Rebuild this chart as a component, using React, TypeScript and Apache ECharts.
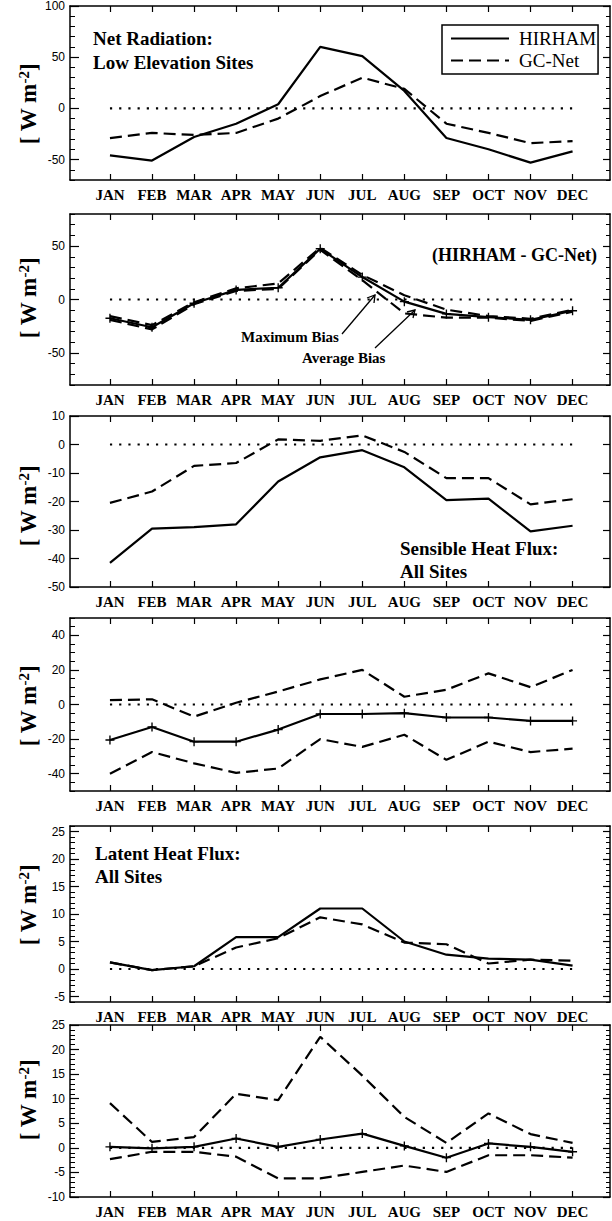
import React, { useEffect, useRef } from 'react';
import * as echarts from 'echarts';

// ---------- data ----------
const MONTHS = ['JAN', 'FEB', 'MAR', 'APR', 'MAY', 'JUN', 'JUL', 'AUG', 'SEP', 'OCT', 'NOV', 'DEC'];
const MONTH_POS = [1, 2, 3, 4, 5, 6, 7, 8, 9, 10, 11, 12];
const ZERO = [0, 0, 0, 0, 0, 0, 0, 0, 0, 0, 0, 0];

// Panel 1: Net radiation, low elevation sites
const P1_HIRHAM = [-46, -51, -28, -15, 4, 60, 51, 17, -29, -40, -53, -42];
const P1_GCNET = [-29, -24, -26, -24, -10, 12, 30, 19, -15, -24, -34, -32];
// Panel 2: net radiation bias (HIRHAM - GC-Net)
const P2_AVG = [-17.5, -26, -3.5, 9, 11, 47.5, 21, -2, -13.5, -16.5, -19, -10.5];
const P2_MAX_HI = [-15.5, -24, -2.5, 10.5, 15, 48.5, 23, 4, -9.5, -15.5, -18, -9.5];
const P2_MAX_LO = [-19, -28, -4.5, 8, 10, 46.5, 18, -13, -17, -17, -20, -11.5];
// Panel 3: sensible heat flux, all sites
const P3_HIRHAM = [-41.5, -29.5, -29, -28, -13, -4.5, -2, -8, -19.5, -19, -30.5, -28.5];
const P3_GCNET = [-20.5, -16.5, -7.5, -6.5, 1.8, 1.3, 3.2, -2.6, -11.8, -11.8, -21, -19.2];
// Panel 4: sensible heat flux bias
const P4_AVG = [-20.5, -13, -21.5, -21.5, -14.5, -5.5, -5.5, -5, -7.5, -7.5, -9.5, -9.5];
const P4_MAX_HI = [2.5, 3, -7, 1, 7.5, 14.5, 20, 4.5, 8.5, 18, 10, 20];
const P4_MAX_LO = [-40, -27.5, -34, -39.5, -37, -20, -24.5, -17.5, -32, -21.5, -27.5, -25.5];
// Panel 5: latent heat flux, all sites
const P5_HIRHAM = [1.2, -0.2, 0.5, 5.8, 5.8, 11, 11, 5, 2.6, 1.9, 1.7, 0.6];
const P5_GCNET = [1.2, -0.2, 0.5, 3.9, 5.6, 9.4, 8.1, 4.8, 4.5, 1.0, 1.7, 1.5];
// Panel 6: latent heat flux bias
const P6_AVG = [0.2, -0.1, 0.2, 1.9, 0.2, 1.7, 2.9, 0.4, -2.0, 0.9, 0.2, -0.8];
const P6_MAX_HI = [9.1, 1.2, 2.2, 11, 9.7, 22.6, 14.7, 6.3, 1.0, 7.0, 2.8, 1.0];
const P6_MAX_LO = [-2.3, -0.8, -0.8, -1.8, -6.2, -6.2, -4.9, -3.6, -4.9, -1.5, -1.5, -2.0];

// ---------- layout ----------
const SERIF = '"Liberation Serif", "Times New Roman", serif';
const SANS = '"Liberation Sans", Arial, sans-serif';
const X_MIN = 0.05;
const X_MAX = 12.89;
const GRID_LEFT = 70;
const GRID_RIGHT = 2;

function ticks(min: number, max: number, step: number, exclude: number[]) {
  const out: number[] = [];
  for (let v = min; v <= max + 1e-9; v += step) {
    const r = Math.round(v * 1000) / 1000;
    if (!exclude.some((e) => Math.abs(e - r) < 1e-9)) out.push(r);
  }
  return out;
}

type S = { name: string; data: number[]; kind: 'solid' | 'dashed'; plus?: boolean };
type Panel = {
  top: number; height: number; min: number; max: number;
  major: number[]; minorStep: number; labelY: number; series: S[];
};

const PANELS: Panel[] = [
  {
    top: 6, height: 174, min: -70, max: 100, major: [-50, 0, 50, 100], minorStep: 10, labelY: 104,
    series: [
      { name: 'HIRHAM', data: P1_HIRHAM, kind: 'solid' },
      { name: 'GC-Net', data: P1_GCNET, kind: 'dashed' },
    ],
  },
  {
    top: 214, height: 171, min: -80, max: 80, major: [-50, 0, 50], minorStep: 10, labelY: 298,
    series: [
      { name: 'Maximum Bias (high)', data: P2_MAX_HI, kind: 'dashed' },
      { name: 'Maximum Bias (low)', data: P2_MAX_LO, kind: 'dashed' },
      { name: 'Average Bias', data: P2_AVG, kind: 'solid', plus: true },
    ],
  },
  {
    top: 416, height: 171, min: -50, max: 10, major: [-50, -40, -30, -20, -10, 0, 10], minorStep: 0, labelY: 506,
    series: [
      { name: 'HIRHAM sensible', data: P3_HIRHAM, kind: 'solid' },
      { name: 'GC-Net sensible', data: P3_GCNET, kind: 'dashed' },
    ],
  },
  {
    top: 618, height: 173, min: -50, max: 50, major: [-40, -20, 0, 20, 40], minorStep: 5, labelY: 706,
    series: [
      { name: 'Sensible max bias (high)', data: P4_MAX_HI, kind: 'dashed' },
      { name: 'Sensible max bias (low)', data: P4_MAX_LO, kind: 'dashed' },
      { name: 'Sensible average bias', data: P4_AVG, kind: 'solid', plus: true },
    ],
  },
  {
    top: 826, height: 176, min: -6, max: 26, major: [-5, 0, 5, 10, 15, 20, 25], minorStep: 1, labelY: 905,
    series: [
      { name: 'HIRHAM latent', data: P5_HIRHAM, kind: 'solid' },
      { name: 'GC-Net latent', data: P5_GCNET, kind: 'dashed' },
    ],
  },
  {
    top: 1025, height: 172, min: -10, max: 25, major: [-10, -5, 0, 5, 10, 15, 20, 25], minorStep: 1, labelY: 1100,
    series: [
      { name: 'Latent max bias (high)', data: P6_MAX_HI, kind: 'dashed' },
      { name: 'Latent max bias (low)', data: P6_MAX_LO, kind: 'dashed' },
      { name: 'Latent average bias', data: P6_AVG, kind: 'solid', plus: true },
    ],
  },
];

const PLUS = 'path://M-0.6,-4H0.6V-0.6H4V0.6H0.6V4H-0.6V0.6H-4V-0.6H-0.6Z';
const AXIS_LINE = { show: true, onZero: false, lineStyle: { color: '#000', width: 1.5 } };
const NO_LINE = { show: false, onZero: false };

function buildOption() {
  const grid: any[] = [];
  const xAxis: any[] = [];
  const yAxis: any[] = [];
  const series: any[] = [];
  const graphic: any[] = [];

  PANELS.forEach((p, i) => {
    grid.push({ left: GRID_LEFT, right: GRID_RIGHT, top: p.top, height: p.height });
    const minor = p.minorStep ? ticks(p.min, p.max, p.minorStep, p.major) : [];
    // bottom x axis with month labels
    xAxis.push({
      type: 'value', gridIndex: i, position: 'bottom', min: X_MIN, max: X_MAX,
      axisLine: AXIS_LINE,
      axisTick: { show: true, inside: true, length: 6, customValues: MONTH_POS, lineStyle: { color: '#000', width: 1.2 } },
      axisLabel: {
        show: true, customValues: MONTH_POS, margin: 7,
        formatter: (v: number) => MONTHS[Math.round(v) - 1] || '',
        fontFamily: SERIF, fontWeight: 'bold', fontSize: 15, color: '#000',
      },
      splitLine: { show: false },
    });
    // top x axis (frame + ticks)
    xAxis.push({
      type: 'value', gridIndex: i, position: 'top', min: X_MIN, max: X_MAX,
      axisLine: AXIS_LINE,
      axisTick: { show: true, inside: true, length: 6, customValues: MONTH_POS, lineStyle: { color: '#000', width: 1.2 } },
      axisLabel: { show: false },
      splitLine: { show: false },
    });
    const yBase = { type: 'value', gridIndex: i, min: p.min, max: p.max, splitLine: { show: false } };
    yAxis.push({
      ...yBase, position: 'left',
      axisLine: AXIS_LINE,
      axisTick: { show: true, inside: true, length: 9, customValues: p.major, lineStyle: { color: '#000', width: 1.2 } },
      axisLabel: { show: true, customValues: p.major, margin: 5, fontFamily: SANS, fontSize: 12, color: '#000' },
    });
    yAxis.push({
      ...yBase, position: 'left',
      axisLine: NO_LINE,
      axisTick: { show: minor.length > 0, inside: true, length: 5, customValues: minor.length ? minor : [p.min], lineStyle: { color: '#000', width: 1 } },
      axisLabel: { show: false },
    });
    yAxis.push({
      ...yBase, position: 'right',
      axisLine: AXIS_LINE,
      axisTick: { show: true, inside: true, length: 7, customValues: p.major, lineStyle: { color: '#000', width: 1.2 } },
      axisLabel: { show: false },
    });
    yAxis.push({
      ...yBase, position: 'right',
      axisLine: NO_LINE,
      axisTick: { show: minor.length > 0, inside: true, length: 4, customValues: minor.length ? minor : [p.min], lineStyle: { color: '#000', width: 1 } },
      axisLabel: { show: false },
    });

    // zero reference line
    series.push({
      type: 'line', name: 'zero-' + i, xAxisIndex: i * 2, yAxisIndex: i * 4,
      data: ZERO.map((v, k) => [MONTH_POS[k], v]), symbol: 'none', silent: true,
      lineStyle: { color: '#000', width: 2.2, type: [2.2, 7], cap: 'butt' },
      z: 1,
    });
    p.series.forEach((s) => {
      series.push({
        type: 'line', name: s.name, xAxisIndex: i * 2, yAxisIndex: i * 4,
        data: s.data.map((v, k) => [MONTH_POS[k], v]),
        symbol: s.plus ? PLUS : 'none', symbolSize: 9, showSymbol: !!s.plus,
        itemStyle: { color: '#000' },
        lineStyle: s.kind === 'dashed'
          ? { color: '#000', width: 2.2, type: [12, 6], cap: 'butt' }
          : { color: '#000', width: 2.2, type: 'solid' },
        z: s.kind === 'solid' ? 3 : 2,
      });
    });

    // rotated unit label
    graphic.push({
      type: 'text', x: 28, y: p.labelY, rotation: Math.PI / 2,
      style: {
        text: '{a|[ W m}{s|-2}{a|]}',
        align: 'center', verticalAlign: 'middle',
        rich: {
          a: { fontFamily: SERIF, fontWeight: 'bold', fontSize: 23, lineHeight: 24, fill: '#000' },
          s: { fontFamily: SERIF, fontWeight: 'bold', fontSize: 15, lineHeight: 15, verticalAlign: 'top', fill: '#000' },
        },
      },
    });
  });

  const titleStyle = (size: number) => ({ fontFamily: SERIF, fontWeight: 'bold', fontSize: size, fill: '#000' });
  graphic.push(
    { type: 'text', x: 93, y: 38, style: { text: 'Net Radiation:', align: 'left', verticalAlign: 'middle', ...titleStyle(19) } },
    { type: 'text', x: 93, y: 62, style: { text: 'Low Elevation Sites', align: 'left', verticalAlign: 'middle', ...titleStyle(19) } },
    { type: 'text', x: 597, y: 255, style: { text: '(HIRHAM - GC-Net)', align: 'right', verticalAlign: 'middle', ...titleStyle(18) } },
    { type: 'text', x: 241, y: 337, style: { text: 'Maximum Bias', align: 'left', verticalAlign: 'middle', ...titleStyle(15) } },
    { type: 'text', x: 302, y: 358, style: { text: 'Average Bias', align: 'left', verticalAlign: 'middle', ...titleStyle(15) } },
    { type: 'text', x: 400, y: 548, style: { text: 'Sensible Heat Flux:', align: 'left', verticalAlign: 'middle', ...titleStyle(19) } },
    { type: 'text', x: 400, y: 571, style: { text: 'All Sites', align: 'left', verticalAlign: 'middle', ...titleStyle(19) } },
    { type: 'text', x: 95, y: 853, style: { text: 'Latent Heat Flux:', align: 'left', verticalAlign: 'middle', ...titleStyle(19) } },
    { type: 'text', x: 95, y: 876, style: { text: 'All Sites', align: 'left', verticalAlign: 'middle', ...titleStyle(19) } },
    // arrows
    { type: 'line', shape: { x1: 342, y1: 334, x2: 375, y2: 295 }, style: { stroke: '#000', lineWidth: 1.3 } },
    { type: 'polyline', shape: { points: [[367, 298], [375, 295], [374, 303]] }, style: { stroke: '#000', lineWidth: 1.3, fill: null } },
    { type: 'line', shape: { x1: 375, y1: 348, x2: 415, y2: 310 }, style: { stroke: '#000', lineWidth: 1.3 } },
    { type: 'polyline', shape: { points: [[407, 312], [415, 310], [413, 318]] }, style: { stroke: '#000', lineWidth: 1.3, fill: null } },
  );

  return {
    animation: false,
    backgroundColor: '#fff',
    grid, xAxis, yAxis, series, graphic,
    legend: {
      show: true, data: ['HIRHAM', 'GC-Net'], orient: 'vertical', left: 442, top: 25,
      itemWidth: 58, itemHeight: 14, itemGap: 3, padding: [4, 2, 4, 8],
      borderColor: '#000', borderWidth: 1.5, borderRadius: 0, selectedMode: false,
      itemStyle: { opacity: 0, borderWidth: 0 },
      textStyle: { fontFamily: SERIF, fontSize: 19, color: '#000', padding: [0, 0, 0, 5] },
    },
  };
}

export default function App() {
  const ref = useRef<HTMLDivElement>(null);
  useEffect(() => {
    if (!ref.current) return;
    const chart = echarts.init(ref.current, undefined, { renderer: 'svg' });
    chart.setOption(buildOption() as any);
    return () => chart.dispose();
  }, []);
  return (
    <div
      ref={ref}
      style={{ position: 'absolute', left: 0, top: 0, width: 612, height: 1221, background: '#fff' }}
    />
  );
}
